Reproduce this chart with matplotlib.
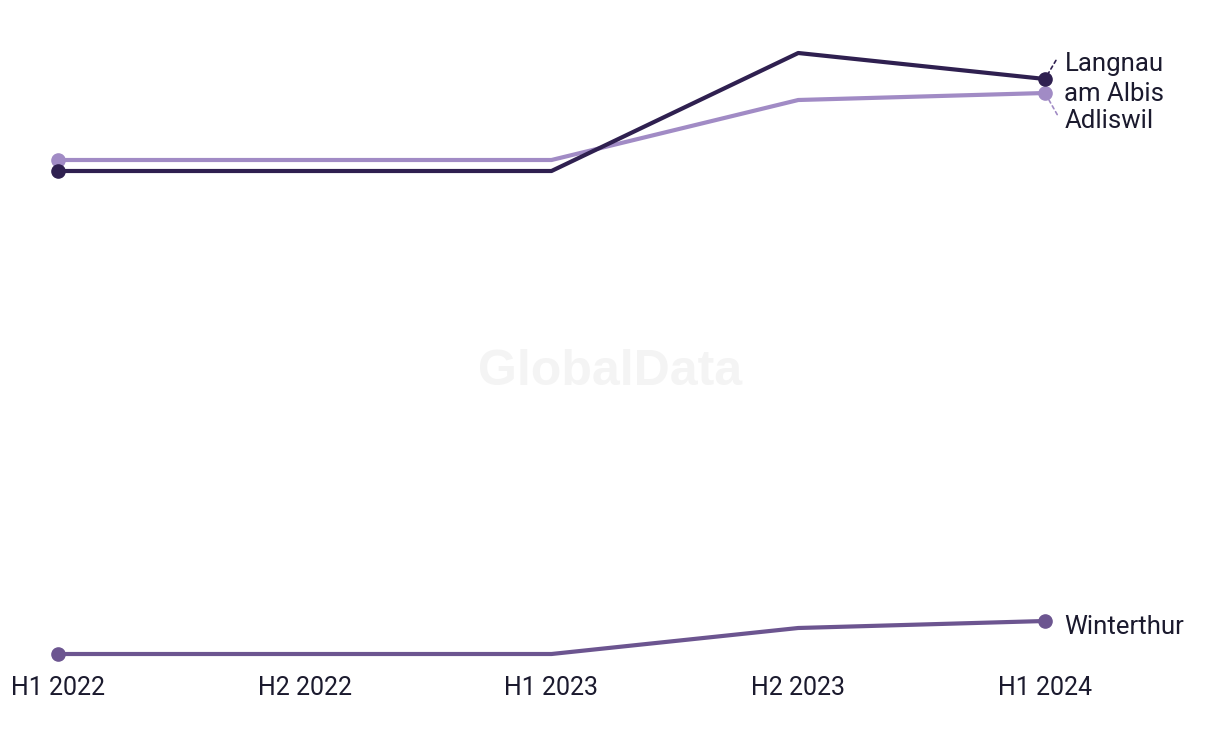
import matplotlib.pyplot as plt

periods = ['H1 2022', 'H2 2022', 'H1 2023', 'H2 2023', 'H1 2024']
langnau = [529, 529, 529, 647, 621]
adliswil = [540, 540, 540, 600, 607]
winterthur = [46, 46, 46, 72, 79]

c_langnau = '#2f2050'
c_adliswil = '#a18bc5'
c_winterthur = '#6c5590'
c_text = '#1b1a2e'

plt.rcParams['font.family'] = ['Roboto', 'DejaVu Sans']

fig = plt.figure(figsize=(12.2, 7.44), dpi=100)
ax = fig.add_axes([58 / 1220, 1 - 654 / 744, (1045 - 58) / 1220, (654 - 53) / 744])

fig.text(0.5, 1 - 372 / 744, 'GlobalData', ha='center', va='center',
         fontsize=36, fontweight='bold', color='#f4f4f4',
         family=['Liberation Sans', 'DejaVu Sans'], zorder=0)

x = list(range(len(periods)))
for vals, col in [(adliswil, c_adliswil), (langnau, c_langnau), (winterthur, c_winterthur)]:
    ax.plot(x, vals, color=col, lw=3, solid_capstyle='round', clip_on=False, zorder=3)
    ax.plot([x[0], x[-1]], [vals[0], vals[-1]], 'o', color=col, ms=9.5,
            clip_on=False, zorder=4)

ax.set_xlim(0, 4)
ax.set_ylim(46, 647)

# end labels with dashed leaders
fs = 18.5
ax.annotate('Langnau\nam Albis', xy=(4, langnau[-1]), xytext=(14, 0),
            textcoords='offset points', ha='left', va='center', fontsize=fs,
            color=c_text, linespacing=1.35, annotation_clip=False)
ax.annotate('', xy=(4, langnau[-1]), xytext=(4.05, langnau[-1] + 21),
            arrowprops=dict(arrowstyle='-', ls=(0, (2, 2)), color=c_langnau, lw=1.2),
            annotation_clip=False)
ax.annotate('Adliswil', xy=(4, adliswil[-1]), xytext=(14, -20),
            textcoords='offset points', ha='left', va='center', fontsize=fs,
            color=c_text, annotation_clip=False)
ax.annotate('', xy=(4, adliswil[-1]), xytext=(4.055, adliswil[-1] - 24),
            arrowprops=dict(arrowstyle='-', ls=(0, (2, 2)), color=c_adliswil, lw=1.2),
            annotation_clip=False)
ax.annotate('Winterthur', xy=(4, winterthur[-1]), xytext=(14, -4.5),
            textcoords='offset points', ha='left', va='center', fontsize=fs,
            color=c_text, annotation_clip=False)

ax.set_xticks(x)
ax.set_xticklabels(periods, fontsize=18, color=c_text)
ax.tick_params(axis='x', length=0, pad=16)
ax.set_yticks([])
for s in ax.spines.values():
    s.set_visible(False)

fig.savefig('out.png', dpi=100)
